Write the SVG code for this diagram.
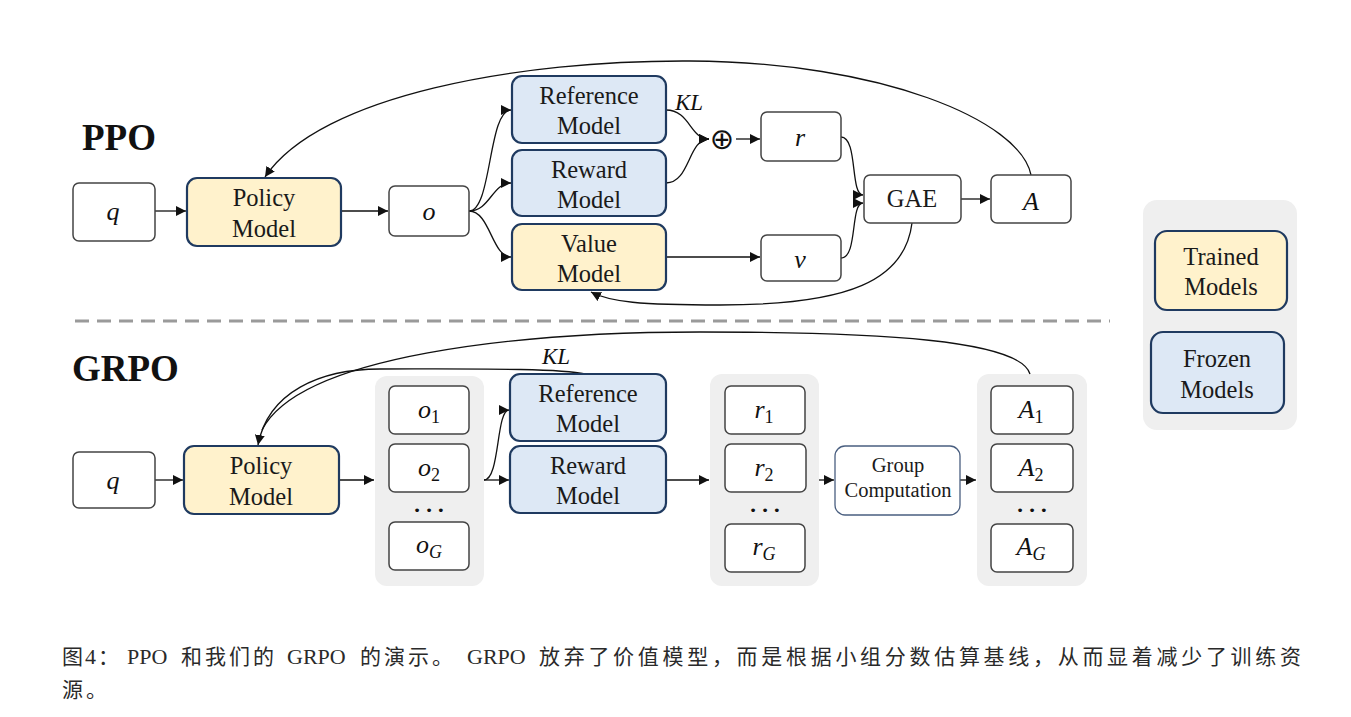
<svg xmlns="http://www.w3.org/2000/svg" width="1351" height="717" viewBox="0 0 1351 717">
<defs>
<marker id="ah" markerUnits="userSpaceOnUse" markerWidth="11" markerHeight="10" refX="10" refY="5" orient="auto">
<path d="M0,0 L10,5 L0,10 z" fill="#111"/>
</marker>
<style>
.t{font-family:"Liberation Serif",serif;font-size:24.5px;fill:#1a1a1a;text-anchor:middle}
.m{font-family:"Liberation Serif",serif;font-style:italic;font-size:26px;fill:#111;text-anchor:middle}
.s{font-style:normal;font-size:18px}
.h{font-family:"Liberation Serif",serif;font-weight:bold;font-size:37px;fill:#111}
.box{fill:#fff;stroke:#444;stroke-width:1.5}
.tr{fill:#fff2cc;stroke:#1f3a60;stroke-width:2.2}
.fr{fill:#dde8f5;stroke:#1f3a60;stroke-width:2.2}
.grp{fill:#efefef;stroke:none}
.c{fill:none;stroke:#111;stroke-width:1.3}
.a{marker-end:url(#ah)}
.dots{font-family:"DejaVu Sans",sans-serif;font-size:13px;fill:#111;text-anchor:middle}
.cap{font-family:"Liberation Serif","Noto Sans CJK SC",serif;font-size:22px;fill:#2a2a2a}
.cj{font-family:"Noto Sans CJK SC",sans-serif;font-size:21px}
</style>
</defs>
<rect width="1351" height="717" fill="#fff"/>

<text class="h" x="82" y="150">PPO</text>
<text class="h" x="72" y="381">GRPO</text>
<line x1="75" y1="321" x2="1110" y2="321" stroke="#9a9a9a" stroke-width="3" stroke-dasharray="14,8"/>

<!-- group backgrounds -->
<rect class="grp" x="375" y="376" width="109" height="210" rx="12"/>
<rect class="grp" x="710" y="374" width="109" height="212" rx="12"/>
<rect class="grp" x="977" y="374" width="110" height="212" rx="12"/>
<rect class="grp" x="1143" y="200" width="154" height="230" rx="14"/>

<g id="connectors">
<!-- PPO -->
<path class="c a" d="M155,211 L186,211"/>
<path class="c a" d="M341,211 L388,211"/>
<path class="c a" d="M469,211 C492,211 488,110 511,110"/>
<path class="c a" d="M469,211 C490,211 492,183 511,183"/>
<path class="c a" d="M469,211 C490,211 492,257 511,257"/>
<path class="c a" d="M666,110 C690,110 690,139 709,139"/>
<path class="c a" d="M666,183 C690,183 688,139 709,139"/>
<path class="c a" d="M736,139 L760,139"/>
<path class="c a" d="M666,257 L760,257"/>
<path class="c a" d="M841,137 C858,137 850,195 863,195"/>
<path class="c a" d="M841,258 C858,258 850,203 863,203"/>
<path class="c a" d="M961,199 L990,199"/>
<path class="c a" d="M1031,175 C1020,120 880,62 690,61 C520,60 320,95 265,177"/>
<path class="c a" d="M912,223 C905,280 850,305 720,305 C640,305 610,302 591,292"/>
<!-- GRPO -->
<path class="c a" d="M155,480 L183,480"/>
<path class="c a" d="M339,480 L374,480"/>
<path class="c a" d="M484,480 L509,480"/>
<path class="c a" d="M484,480 C500,480 496,410 509,410"/>
<path class="c a" d="M666,480 L709,480"/>
<path class="c a" d="M819,480 L834,480"/>
<path class="c a" d="M960,480 L976,480"/>
<path class="c" d="M1030,374 C1020,340 880,332 700,332 C520,332 300,355 262,430"/>
<path class="c a" d="M585,374 C560,368 470,369 380,369 C320,369 268,392 258,445"/>
</g>

<g id="ppo-q"><rect class="box" x="73" y="183" width="82" height="58" rx="6"/><text class="m" x="113" y="220">q</text></g>
<g id="ppo-policy"><rect class="tr" x="187" y="178" width="154" height="68" rx="10"/><text class="t" x="264" y="206">Policy</text><text class="t" x="264" y="237">Model</text></g>
<g id="ppo-o"><rect class="box" x="389" y="186" width="80" height="50" rx="6"/><text class="m" x="429" y="220">o</text></g>
<g id="ppo-ref"><rect class="fr" x="512" y="76" width="154" height="67" rx="10"/><text class="t" x="589" y="104">Reference</text><text class="t" x="589" y="134">Model</text></g>
<g id="ppo-reward"><rect class="fr" x="512" y="150" width="154" height="66" rx="10"/><text class="t" x="589" y="178">Reward</text><text class="t" x="589" y="208">Model</text></g>
<g id="ppo-value"><rect class="tr" x="512" y="224" width="154" height="66" rx="10"/><text class="t" x="589" y="252">Value</text><text class="t" x="589" y="282">Model</text></g>
<g id="ppo-kl"><text class="m" x="689" y="110" style="font-size:23px">KL</text></g>
<g id="ppo-plus"><text x="722" y="149" style="font-family:'DejaVu Sans',sans-serif;font-size:29px;text-anchor:middle;fill:#111">⊕</text></g>
<g id="ppo-r"><rect class="box" x="761" y="112" width="80" height="49" rx="6"/><text class="m" x="800" y="146">r</text></g>
<g id="ppo-v"><rect class="box" x="761" y="235" width="80" height="46" rx="6"/><text class="m" x="800" y="268">v</text></g>
<g id="ppo-gae"><rect class="box" x="864" y="175" width="97" height="48" rx="6"/><text class="t" x="912" y="207">GAE</text></g>
<g id="ppo-a"><rect class="box" x="991" y="175" width="80" height="48" rx="6"/><text class="m" x="1031" y="210">A</text></g>

<g id="legend-trained"><rect class="tr" x="1155" y="231" width="132" height="79" rx="12"/><text class="t" x="1221" y="265">Trained</text><text class="t" x="1221" y="295">Models</text></g>
<g id="legend-frozen"><rect class="fr" x="1151" y="332" width="133" height="81" rx="12"/><text class="t" x="1217" y="367">Frozen</text><text class="t" x="1217" y="398">Models</text></g>

<g id="grpo-q"><rect class="box" x="73" y="452" width="82" height="56" rx="6"/><text class="m" x="113" y="489">q</text></g>
<g id="grpo-policy"><rect class="tr" x="184" y="446" width="155" height="68" rx="10"/><text class="t" x="261" y="474">Policy</text><text class="t" x="261" y="505">Model</text></g>
<g id="grpo-o1"><rect class="box" x="389" y="386" width="80" height="48" rx="6"/><text class="m" x="429" y="418">o<tspan class="s" dy="5">1</tspan></text></g>
<g id="grpo-o2"><rect class="box" x="389" y="444" width="80" height="48" rx="6"/><text class="m" x="429" y="476">o<tspan class="s" dy="5">2</tspan></text></g>
<text class="dots" x="429" y="515">• • •</text>
<g id="grpo-oG"><rect class="box" x="389" y="522" width="80" height="48" rx="6"/><text class="m" x="429" y="553">o<tspan class="s" dy="5" style="font-style:italic">G</tspan></text></g>
<g id="grpo-ref"><rect class="fr" x="510" y="374" width="156" height="67" rx="10"/><text class="t" x="588" y="402">Reference</text><text class="t" x="588" y="432">Model</text></g>
<g id="grpo-reward"><rect class="fr" x="510" y="446" width="156" height="67" rx="10"/><text class="t" x="588" y="474">Reward</text><text class="t" x="588" y="504">Model</text></g>
<g id="grpo-kl"><text class="m" x="556" y="364" style="font-size:23px">KL</text></g>
<g id="grpo-r1"><rect class="box" x="725" y="386" width="80" height="48" rx="6"/><text class="m" x="764" y="418">r<tspan class="s" dy="5">1</tspan></text></g>
<g id="grpo-r2"><rect class="box" x="725" y="444" width="81" height="48" rx="6"/><text class="m" x="764" y="476">r<tspan class="s" dy="5">2</tspan></text></g>
<text class="dots" x="765" y="515">• • •</text>
<g id="grpo-rG"><rect class="box" x="725" y="524" width="80" height="48" rx="6"/><text class="m" x="764" y="555">r<tspan class="s" dy="5" style="font-style:italic">G</tspan></text></g>
<g id="grpo-group"><rect x="835" y="446" width="125" height="69" rx="10" fill="#fff" stroke="#4a5f80" stroke-width="1.3"/><text class="t" x="898" y="472" style="font-size:20.5px">Group</text><text class="t" x="898" y="497" style="font-size:20.5px">Computation</text></g>
<g id="grpo-A1"><rect class="box" x="991" y="386" width="82" height="48" rx="6"/><text class="m" x="1031" y="418">A<tspan class="s" dy="5">1</tspan></text></g>
<g id="grpo-A2"><rect class="box" x="991" y="444" width="82" height="48" rx="6"/><text class="m" x="1031" y="476">A<tspan class="s" dy="5">2</tspan></text></g>
<text class="dots" x="1032" y="515">• • •</text>
<g id="grpo-AG"><rect class="box" x="991" y="524" width="82" height="48" rx="6"/><text class="m" x="1031" y="555">A<tspan class="s" dy="5" style="font-style:italic">G</tspan></text></g>

<text class="cap" y="664"><tspan class="cj" x="62">图</tspan><tspan x="85">4</tspan><tspan class="cj" x="98">：</tspan><tspan x="127">PPO</tspan><tspan class="cj" x="181" letter-spacing="3">和我们的</tspan><tspan x="287">GRPO</tspan><tspan class="cj" x="360" letter-spacing="3">的演示。</tspan><tspan x="467">GRPO</tspan><tspan class="cj" x="539" letter-spacing="3.7">放弃了价值模型，而是根据小组分数估算基线，从而显着减少了训练资</tspan></text>
<text class="cap" y="697"><tspan class="cj" x="62" letter-spacing="3">源。</tspan></text>
</svg>
